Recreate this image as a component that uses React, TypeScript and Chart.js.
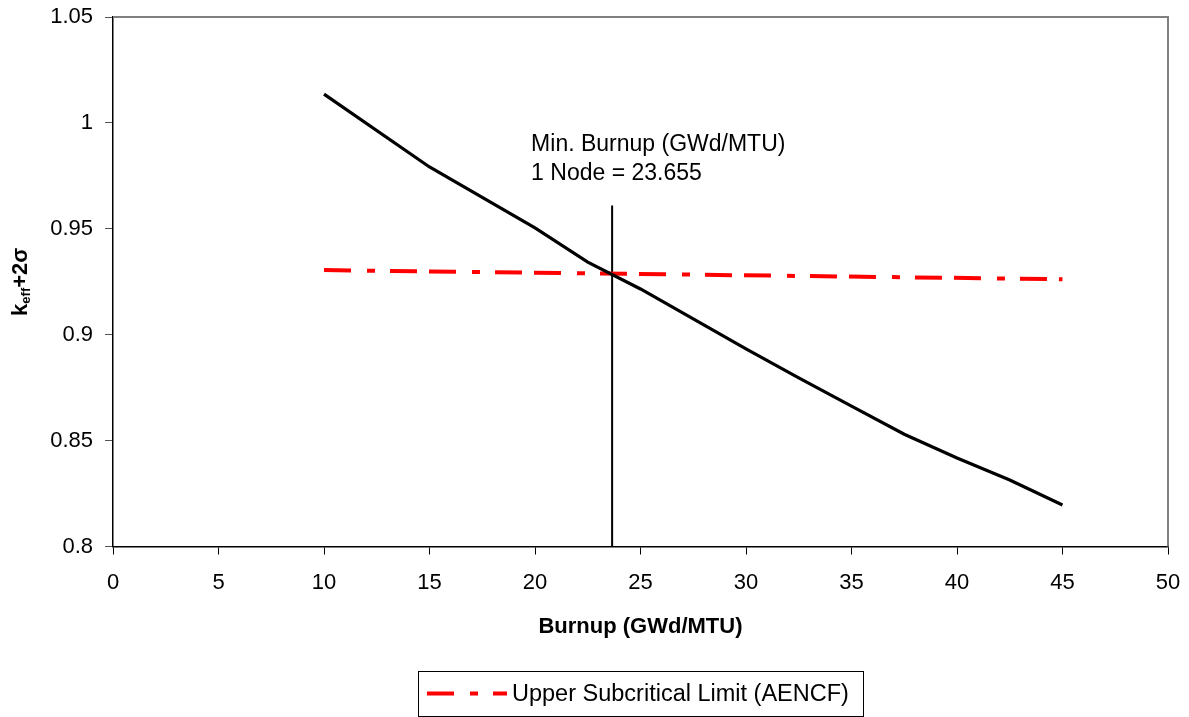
import React, { useEffect, useRef } from "react";
import { Chart, registerables } from "chart.js";

Chart.register(...registerables);

// Burnup (GWd/MTU) and k_eff + 2σ along the loading curve
const burnupPoints = [10, 15, 20, 22.5, 25, 30, 32.5, 35, 37.5, 40, 42.5, 45];
const keffValues = [1.0136, 0.9792, 0.9504, 0.9343, 0.9216, 0.8933, 0.8796, 0.8663, 0.853, 0.8418, 0.8314, 0.8196];

// Upper subcritical limit (AENCF)
const uslBurnup = [10, 45];
const uslValues = [0.9305, 0.9262];

// Minimum burnup marker
const minBurnup = 23.655;
const markerRange = [0.8, 0.961];

const xTickValues = [0, 5, 10, 15, 20, 25, 30, 35, 40, 45, 50];
const yTickValues = [0.8, 0.85, 0.9, 0.95, 1, 1.05];

const legendLabel = "Upper Subcritical Limit (AENCF)";
const annotationLines = ["Min. Burnup (GWd/MTU)", "1 Node = " + minBurnup.toFixed(3)];
const xTitle = "Burnup (GWd/MTU)";

const FONT = '"Liberation Sans", Arial, Helvetica, sans-serif';
const USL_DASH = [27, 16, 8, 15, 27, 12];

const overlayPlugin = {
  id: "overlay",
  afterDraw(chart: any) {
    const ctx = chart.ctx as CanvasRenderingContext2D;
    const { left, right, top, bottom } = chart.chartArea;
    const xs = chart.scales.x;
    ctx.save();

    // gray frame on top and right edges of the plot
    ctx.strokeStyle = "#808080";
    ctx.lineWidth = 2;
    ctx.beginPath();
    ctx.moveTo(left, top);
    ctx.lineTo(right, top);
    ctx.lineTo(right, bottom);
    ctx.stroke();

    // annotation next to the marker
    ctx.fillStyle = "#000";
    ctx.font = `23px ${FONT}`;
    ctx.textAlign = "left";
    ctx.textBaseline = "alphabetic";
    const ax = xs.getPixelForValue(minBurnup) - 81;
    ctx.fillText(annotationLines[0], ax, 151);
    ctx.fillText(annotationLines[1], ax, 180);

    // x axis title
    ctx.font = `bold 22px ${FONT}`;
    ctx.textAlign = "center";
    ctx.textBaseline = "middle";
    ctx.fillText(xTitle, (left + right) / 2, 627);

    // y axis title: k_eff + 2σ, rotated
    ctx.save();
    ctx.translate(19, (top + bottom) / 2);
    ctx.rotate(-Math.PI / 2);
    const big = `bold 22px ${FONT}`;
    const small = `bold 13px ${FONT}`;
    ctx.textAlign = "left";
    ctx.textBaseline = "alphabetic";
    ctx.font = big;
    const wK = ctx.measureText("k").width;
    const wRest = ctx.measureText("+2σ").width;
    ctx.font = small;
    const wSub = ctx.measureText("eff").width;
    const total = wK + wSub + wRest;
    let cx = -total / 2;
    const base = 8;
    ctx.font = big;
    ctx.fillText("k", cx, base);
    cx += wK;
    ctx.font = small;
    ctx.fillText("eff", cx, base + 3);
    cx += wSub;
    ctx.font = big;
    ctx.fillText("+2σ", cx, base);
    ctx.restore();

    // legend box
    const bx = 418, by = 671, bw = 445, bh = 45;
    ctx.strokeStyle = "#000";
    ctx.lineWidth = 1;
    ctx.strokeRect(bx + 0.5, by + 0.5, bw, bh);
    const usl = chart.data.datasets[1];
    ctx.strokeStyle = usl.borderColor;
    ctx.lineWidth = usl.borderWidth;
    ctx.setLineDash(usl.borderDash);
    ctx.beginPath();
    ctx.moveTo(427, by + bh / 2);
    ctx.lineTo(507, by + bh / 2);
    ctx.stroke();
    ctx.setLineDash([]);
    ctx.fillStyle = "#000";
    ctx.font = `23.5px ${FONT}`;
    ctx.textAlign = "left";
    ctx.textBaseline = "middle";
    ctx.fillText(legendLabel, 512, by + bh / 2 + 1);

    ctx.restore();
  },
};

export default function App() {
  const canvasRef = useRef<HTMLCanvasElement | null>(null);

  useEffect(() => {
    if (!canvasRef.current) return;
    const chart = new Chart(canvasRef.current, {
      type: "scatter",
      data: {
        datasets: [
          {
            label: "k_eff + 2σ",
            data: burnupPoints.map((x, i) => ({ x, y: keffValues[i] })),
            showLine: true,
            borderColor: "#000000",
            borderWidth: 3.2,
            pointRadius: 0,
            tension: 0,
          },
          {
            label: legendLabel,
            data: uslBurnup.map((x, i) => ({ x, y: uslValues[i] })),
            showLine: true,
            borderColor: "#ff0000",
            borderWidth: 4,
            borderDash: USL_DASH,
            borderCapStyle: "butt",
            pointRadius: 0,
          },
          {
            label: "Min. Burnup",
            data: markerRange.map((y) => ({ x: minBurnup, y })),
            showLine: true,
            borderColor: "#000000",
            borderWidth: 2,
            pointRadius: 0,
          },
        ],
      } as any,
      options: {
        responsive: false,
        animation: false,
        devicePixelRatio: 1,
        layout: { padding: { left: 0, right: 21, top: 17, bottom: 0 } },
        plugins: {
          legend: { display: false },
          tooltip: { enabled: false },
        },
        scales: {
          x: {
            type: "linear",
            min: 0,
            max: 50,
            afterFit: (s: any) => {
              s.height = 170.5;
              s.paddingLeft = 0;
              s.paddingRight = 0;
            },
            afterBuildTicks: (s: any) => {
              s.ticks = xTickValues.map((value) => ({ value }));
            },
            grid: {
              drawOnChartArea: false,
              drawTicks: true,
              tickLength: 8,
              color: "#000",
              lineWidth: 1,
            },
            border: { display: true, color: "#000", width: 1.5 },
            ticks: {
              color: "#000",
              padding: 15,
              maxRotation: 0,
              autoSkip: false,
              font: { family: FONT, size: 22 },
              callback: (v: any) => String(v),
            },
          },
          y: {
            type: "linear",
            min: 0.8,
            max: 1.05,
            afterFit: (s: any) => {
              s.width = 113;
              s.paddingTop = 0;
              s.paddingBottom = 0;
            },
            afterBuildTicks: (s: any) => {
              s.ticks = yTickValues.map((value) => ({ value }));
            },
            grid: {
              drawOnChartArea: false,
              drawTicks: true,
              tickLength: 8,
              color: "#555",
              lineWidth: 1,
            },
            border: { display: true, color: "#000", width: 1.5 },
            ticks: {
              color: "#000",
              padding: 12,
              autoSkip: false,
              font: { family: FONT, size: 22 },
              callback: (v: any) => String(Number(Number(v).toFixed(2))),
            },
          },
        },
      } as any,
      plugins: [overlayPlugin],
    });
    return () => chart.destroy();
  }, []);

  return (
    <div style={{ position: "fixed", left: 0, top: 0, width: 1189, height: 717, background: "#fff" }}>
      <canvas ref={canvasRef} width={1189} height={717} style={{ display: "block" }} />
    </div>
  );
}
